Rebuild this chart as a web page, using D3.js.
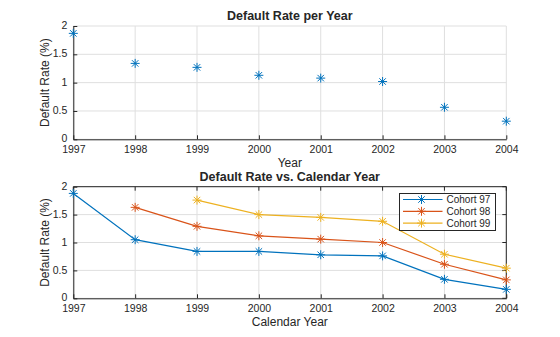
<!DOCTYPE html>
<html>
<head>
<meta charset="utf-8">
<script src="https://cdn.jsdelivr.net/npm/d3@7"></script>
<style>
  body { margin: 0; background: #fff; }
  text { font-family: "Liberation Sans", Arial, sans-serif; fill: #262626; }
</style>
</head>
<body>
<script>
// Years and default rates
var years = [1997, 1998, 1999, 2000, 2001, 2002, 2003, 2004];
var ratePerYear = [1.87, 1.34, 1.27, 1.13, 1.08, 1.02, 0.565, 0.32];

var cohortNames = ["Cohort 97", "Cohort 98", "Cohort 99"];
var cohortStart = [1997, 1998, 1999];
var cohort97 = [1.88, 1.05, 0.84, 0.84, 0.78, 0.76, 0.34, 0.16];
var cohort98 = [1.63, 1.29, 1.12, 1.06, 1.00, 0.61, 0.33];
var cohort99 = [1.76, 1.50, 1.45, 1.38, 0.79, 0.54];
var yTicks = [0, 0.5, 1, 1.5, 2];

var colors = ["#0072BD", "#D95319", "#EDB120"];
var axisColor = "#262626";
var gridColor = "#dfdfdf";

var width = 560, height = 337;
var svg = d3.select("body").append("svg")
    .attr("width", width)
    .attr("height", height);

var x = d3.scaleLinear().domain([1997, 2004]).range([73.3, 506.3]);

// star marker path (MATLAB '*')
function star(s) {
  var p = "";
  p += "M" + (-s) + ",0L" + s + ",0";
  p += "M0," + (-s) + "L0," + s;
  var d = s * 0.72;
  p += "M" + (-d) + "," + (-d) + "L" + d + "," + d;
  p += "M" + (-d) + "," + d + "L" + d + "," + (-d);
  return p;
}

function drawAxes(top, bottom, title, xlabel, boxed) {
  var y = d3.scaleLinear().domain([0, 2]).range([bottom, top]);
  var g = svg.append("g");

  // grid
  g.selectAll("line.gx").data(years).enter().append("line")
      .attr("x1", function(d) { return x(d); }).attr("x2", function(d) { return x(d); })
      .attr("y1", top).attr("y2", bottom)
      .attr("stroke", gridColor).attr("stroke-width", 1);
  g.selectAll("line.gy").data(yTicks).enter().append("line")
      .attr("x1", x.range()[0]).attr("x2", x.range()[1])
      .attr("y1", function(d) { return y(d); }).attr("y2", function(d) { return y(d); })
      .attr("stroke", gridColor).attr("stroke-width", 1);

  var xAxis = d3.axisBottom(x).tickValues(years).tickFormat(d3.format("d"))
      .tickSizeInner(-4).tickSizeOuter(0).tickPadding(7);
  var yAxis = d3.axisLeft(y).tickValues(yTicks).tickFormat(d3.format("~g"))
      .tickSizeInner(-4).tickSizeOuter(0).tickPadding(6);

  var gx = g.append("g").attr("transform", "translate(0," + bottom + ")").call(xAxis);
  var gy = g.append("g").attr("transform", "translate(" + x.range()[0] + ",0)").call(yAxis);
  [gx, gy].forEach(function(a) {
    a.select(".domain").attr("stroke", axisColor);
    a.selectAll(".tick line").attr("stroke", axisColor);
    a.selectAll(".tick text").attr("fill", axisColor)
        .style("font-size", "10.5px").style("font-family", "Liberation Sans, Arial, sans-serif");
  });
  gx.selectAll(".tick text").attr("dy", "0.6em");
  gy.selectAll(".tick text").attr("dy", "0.25em");

  if (boxed) {
    g.append("line").attr("x1", x.range()[0]).attr("x2", x.range()[1])
        .attr("y1", top).attr("y2", top).attr("stroke", axisColor);
    g.append("line").attr("x1", x.range()[1]).attr("x2", x.range()[1])
        .attr("y1", top).attr("y2", bottom).attr("stroke", axisColor);
    // inward ticks on top and right
    g.selectAll("line.tt").data(years).enter().append("line")
        .attr("x1", function(d) { return x(d); }).attr("x2", function(d) { return x(d); })
        .attr("y1", top).attr("y2", top + 4).attr("stroke", axisColor);
    g.selectAll("line.tr").data(yTicks).enter().append("line")
        .attr("x1", x.range()[1]).attr("x2", x.range()[1] - 4)
        .attr("y1", function(d) { return y(d); }).attr("y2", function(d) { return y(d); })
        .attr("stroke", axisColor);
  }

  var mid = (x.range()[0] + x.range()[1]) / 2;
  g.append("text").attr("x", mid).attr("y", top - 6)
      .attr("text-anchor", "middle").style("font-size", "12.5px").style("font-weight", "bold")
      .attr("fill", "#000").text(title);
  g.append("text").attr("x", mid).attr("y", bottom + 28)
      .attr("text-anchor", "middle").style("font-size", "12px").text(xlabel);
  g.append("text")
      .attr("transform", "translate(49," + ((top + bottom) / 2) + ") rotate(-90)")
      .attr("text-anchor", "middle").style("font-size", "12px").text("Default Rate (%)");

  return y;
}

// top: default rate per year
var y1 = drawAxes(26, 139.3, "Default Rate per Year", "Year", false);
svg.append("g").selectAll("path").data(ratePerYear).enter().append("path")
    .attr("d", star(4.5))
    .attr("transform", function(d, i) { return "translate(" + x(years[i]) + "," + y1(d) + ")"; })
    .attr("stroke", colors[0]).attr("stroke-width", 1).attr("fill", "none");

// bottom: cohorts vs calendar year
var y2 = drawAxes(186.7, 298.3, "Default Rate vs. Calendar Year", "Calendar Year", true);
var cohorts = [cohort97, cohort98, cohort99];
var line = d3.line()
    .x(function(d) { return x(d[0]); })
    .y(function(d) { return y2(d[1]); });

cohorts.forEach(function(vals, k) {
  var pts = vals.map(function(v, i) { return [cohortStart[k] + i, v]; });
  var g = svg.append("g");
  g.append("path").datum(pts).attr("d", line)
      .attr("fill", "none").attr("stroke", colors[k]).attr("stroke-width", 1.2);
  g.selectAll("path.m").data(pts).enter().append("path")
      .attr("d", star(4.5))
      .attr("transform", function(d) { return "translate(" + x(d[0]) + "," + y2(d[1]) + ")"; })
      .attr("stroke", colors[k]).attr("stroke-width", 1).attr("fill", "none");
});

// legend
var lg = svg.append("g").attr("transform", "translate(399.5,193.5)");
lg.append("rect").attr("width", 96).attr("height", 37)
    .attr("fill", "#fff").attr("stroke", axisColor).attr("stroke-width", 1);
cohortNames.forEach(function(name, k) {
  var yy = 6 + k * 11.8;
  lg.append("line").attr("x1", 3.5).attr("x2", 43).attr("y1", yy).attr("y2", yy)
      .attr("stroke", colors[k]).attr("stroke-width", 1.2);
  lg.append("path").attr("d", star(4.5)).attr("transform", "translate(22," + yy + ")")
      .attr("stroke", colors[k]).attr("fill", "none");
  lg.append("text").attr("x", 47).attr("y", yy).attr("dy", "0.35em")
      .style("font-size", "10px").attr("fill", "#000").text(name);
});
</script>
</body>
</html>
